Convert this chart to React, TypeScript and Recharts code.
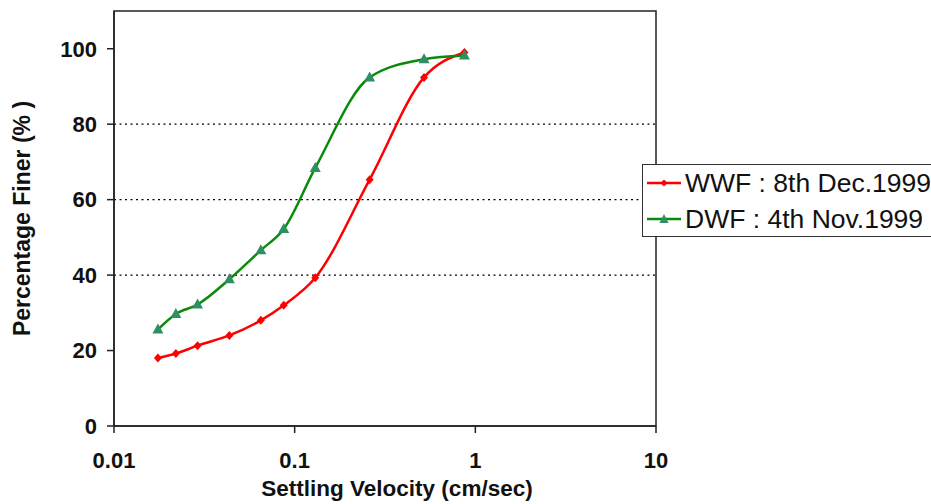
import { LineChart, Line, XAxis, YAxis, ReferenceLine, ReferenceArea } from "recharts";

// settling velocity (cm/sec) - shared by both samples
const velocity = [0.0175, 0.022, 0.029, 0.0435, 0.065, 0.087, 0.13, 0.26, 0.52, 0.87];
// percentage finer (%)
const wwf = [18.0, 19.2, 21.3, 24.0, 28.0, 32.0, 39.3, 65.3, 92.4, 99.0];
const dwf = [25.6, 29.7, 32.2, 38.9, 46.6, 52.2, 68.4, 92.4, 97.2, 98.2];

const xTicks = [0.01, 0.1, 1, 10];
const yTicks = [0, 20, 40, 60, 80, 100];
const gridValues = [40, 60, 80];

const wwfLabel = "WWF : 8th Dec.1999";
const dwfLabel = "DWF : 4th Nov.1999";

const FONT = "'Liberation Sans', Arial, sans-serif";
const RED = "#ff0000";
const GREEN = "#0a8a0a";
const TRI = "#2f8f62";

const data = velocity.map((v, i) => ({ v, wwf: wwf[i], dwf: dwf[i] }));

const Diamond = (props: any) => {
    const { cx, cy } = props;
    if (cx == null || cy == null) return null;
    return <polygon points={`${cx},${cy - 4.5} ${cx + 4},${cy} ${cx},${cy + 4.5} ${cx - 4},${cy}`} fill={RED} />;
};

const Triangle = (props: any) => {
    const { cx, cy } = props;
    if (cx == null || cy == null) return null;
    return <polygon points={`${cx},${cy - 6} ${cx + 5.5},${cy + 4} ${cx - 5.5},${cy + 4}`} fill={TRI} />;
};

function LegendBox() {
    const row = (label: string, color: string, marker: any) => (
        <div style={{ display: "flex", alignItems: "center", height: 36 }}>
            <svg width={34} height={14}>
                <line x1={0} y1={7} x2={34} y2={7} stroke={color} strokeWidth={2.5} />
                {marker}
            </svg>
            <span style={{ marginLeft: 4, fontSize: 26.5, color: "#111", whiteSpace: "nowrap" }}>{label}</span>
        </div>
    );
    return (
        <div
            style={{
                position: "absolute",
                left: 642,
                top: 164,
                border: "1px solid #333",
                background: "#fff",
                width: 300,
                height: 73,
                boxSizing: "border-box",
                paddingLeft: 4,
                fontFamily: FONT,
            }}
        >
            {row(wwfLabel, RED, <polygon points="17,3.5 20.5,7 17,10.5 13.5,7" fill={RED} />)}
            {row(dwfLabel, GREEN, <polygon points="17,2 21.5,11 12.5,11" fill={TRI} />)}
        </div>
    );
}

export default function App() {
    return (
        <div style={{ width: 931, height: 504, background: "#fff", overflow: "hidden", position: "relative" }}>
            <style>{`body{margin:0;overflow:hidden}`}</style>
            <LineChart width={931} height={504} data={data} margin={{ top: 11, right: 275, bottom: 0, left: 0 }}>
                {/* plot frame */}
                <ReferenceArea x1={0.01} x2={10} y1={0} y2={110} fill="none" stroke="#222" strokeWidth={1.5} ifOverflow="visible" />

                {gridValues.map((g) => (
                    <ReferenceLine key={g} y={g} stroke="#000" strokeDasharray="2 3.5" strokeWidth={1.3} />
                ))}

                <XAxis
                    dataKey="v"
                    type="number"
                    scale="log"
                    domain={[0.01, 10]}
                    ticks={xTicks}
                    allowDataOverflow
                    height={78}
                    stroke="#222"
                    strokeWidth={1.5}
                    tickSize={7}
                    tickMargin={19}
                    tick={{ fill: "#111", fontSize: 22, fontWeight: "bold", fontFamily: FONT }}
                    label={{
                        value: "Settling Velocity (cm/sec)",
                        position: "insideBottom",
                        offset: 8,
                        dx: 12,
                        style: { fill: "#111", fontSize: 22.5, fontWeight: "bold", fontFamily: FONT },
                    }}
                />
                <YAxis
                    type="number"
                    domain={[0, 110]}
                    ticks={yTicks}
                    width={114}
                    stroke="#222"
                    strokeWidth={1.5}
                    tickSize={7}
                    tickMargin={10}
                    tick={{ fill: "#111", fontSize: 22, fontWeight: "bold", fontFamily: FONT }}
                    label={{
                        value: "Percentage Finer (% )",
                        content: (p: any) => {
                            const vb = p.viewBox || { x: 0, y: 11, width: 114, height: 415 };
                            const cx = vb.x + 30;
                            const cy = vb.y + vb.height / 2;
                            return (
                                <text
                                    x={cx}
                                    y={cy}
                                    transform={`rotate(-90, ${cx}, ${cy})`}
                                    textAnchor="middle"
                                    fill="#111"
                                    fontSize={23}
                                    fontWeight="bold"
                                    fontFamily={FONT}
                                >
                                    Percentage Finer (% )
                                </text>
                            );
                        },
                    }}
                />

                <Line
                    dataKey="wwf"
                    name={wwfLabel}
                    type="monotone"
                    stroke={RED}
                    strokeWidth={2.5}
                    dot={<Diamond />}
                    activeDot={false}
                    isAnimationActive={false}
                />
                <Line
                    dataKey="dwf"
                    name={dwfLabel}
                    type="monotone"
                    stroke={GREEN}
                    strokeWidth={2.5}
                    dot={<Triangle />}
                    activeDot={false}
                    isAnimationActive={false}
                />
            </LineChart>
            <LegendBox />
        </div>
    );
}
